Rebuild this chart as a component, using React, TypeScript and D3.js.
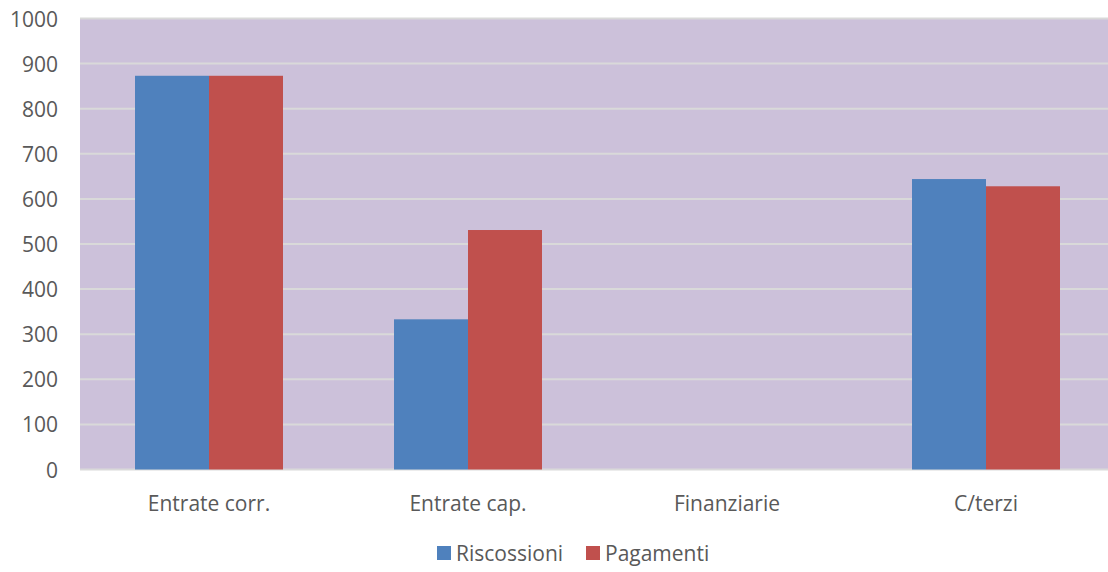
import React, { useEffect, useRef } from "react";
import * as d3 from "d3";

const categories = ["Entrate corr.", "Entrate cap.", "Finanziarie", "C/terzi"];
const riscossioni = [873, 333, 0, 644];
const pagamenti = [873, 531, 0, 628];
const seriesNames = ["Riscossioni", "Pagamenti"];
const yTicks = [0, 100, 200, 300, 400, 500, 600, 700, 800, 900, 1000];

const colors = ["#4f81bd", "#c0504d"];

const App: React.FC = () => {
    const svgRef = useRef<SVGSVGElement | null>(null);

    useEffect(() => {
        const svg = d3.select(svgRef.current);
        svg.selectAll("*").remove();

        const margin = { top: 18.5, right: 0, bottom: 102.5, left: 80 };
        const width = 1108 - margin.left - margin.right;
        const height = 572 - margin.top - margin.bottom;
        const font = "'Open Sans', 'Liberation Sans', sans-serif";

        const g = svg.append("g").attr("transform", `translate(${margin.left},${margin.top})`);

        // plot area runs a little past the right edge of the picture
        const x = d3.scaleBand<string>().domain(categories).range([-0.5, 1035.5]);
        const y = d3.scaleLinear().domain([0, 1000]).range([height, 0]);
        const inner = d3.scaleBand<string>().domain(seriesNames)
            .range([0, x.bandwidth()]).paddingOuter(0.75).paddingInner(0);

        g.append("rect").attr("width", width).attr("height", height).attr("fill", "#ccc1da");

        g.selectAll(".grid").data(yTicks).enter().append("line")
            .attr("x1", 0).attr("x2", width)
            .attr("y1", d => y(d)).attr("y2", d => y(d))
            .attr("stroke", "#d9d9d9").attr("stroke-width", 2);

        const data = [riscossioni, pagamenti];
        data.forEach((vals, si) => {
            g.selectAll(`.bar${si}`).data(vals).enter().append("rect")
                .attr("x", (_, i) => x(categories[i])! + inner(seriesNames[si])!)
                .attr("y", d => y(d))
                .attr("width", inner.bandwidth())
                .attr("height", d => height - y(d))
                .attr("fill", colors[si]);
        });

        g.selectAll(".ylab").data(yTicks).enter().append("text")
            .attr("x", -22).attr("y", d => y(d))
            .attr("text-anchor", "end").attr("dominant-baseline", "central")
            .style("font-family", font).style("font-size", "21px").attr("fill", "#595959")
            .text(d => d);

        g.selectAll(".xlab").data(categories).enter().append("text")
            .attr("x", d => x(d)! + x.bandwidth() / 2).attr("y", height + 33)
            .attr("text-anchor", "middle").attr("dominant-baseline", "central")
            .style("font-family", font).style("font-size", "21px").attr("fill", "#595959")
            .text(d => d);

        const legendY = 553;
        const legendX = [437, 586];
        seriesNames.forEach((name, i) => {
            svg.append("rect").attr("x", legendX[i]).attr("y", legendY - 7)
                .attr("width", 14).attr("height", 14).attr("fill", colors[i]);
            svg.append("text").attr("x", legendX[i] + 19).attr("y", legendY)
                .attr("dominant-baseline", "central")
                .style("font-family", font).style("font-size", "21px").attr("fill", "#595959")
                .text(name);
        });
    }, []);

    return (
        <svg ref={svgRef} width={1108} height={572}
            style={{ position: "absolute", left: 0, top: 0, background: "#fff" }}></svg>
    );
};

export default App;
